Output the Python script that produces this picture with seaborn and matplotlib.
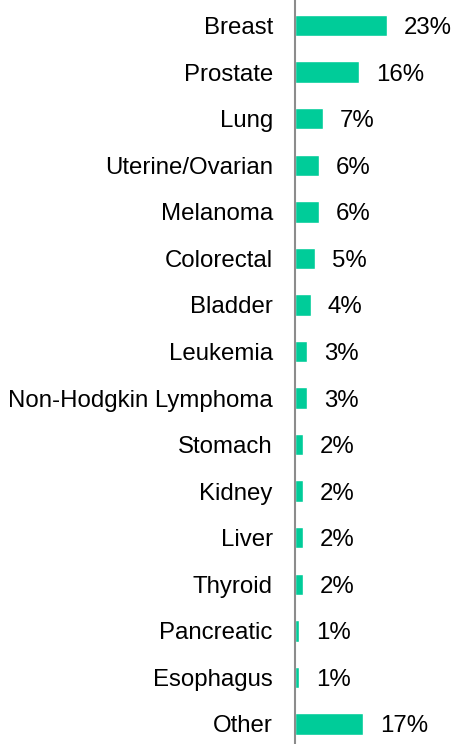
import matplotlib
matplotlib.use("Agg")
import matplotlib.pyplot as plt
import seaborn as sns
import pandas as pd

cancer_types = [
    "Breast", "Prostate", "Lung", "Uterine/Ovarian", "Melanoma", "Colorectal",
    "Bladder", "Leukemia", "Non-Hodgkin Lymphoma", "Stomach", "Kidney",
    "Liver", "Thyroid", "Pancreatic", "Esophagus", "Other",
]
share_pct = [23, 16, 7, 6, 6, 5, 4, 3, 3, 2, 2, 2, 2, 1, 1, 17]

df = pd.DataFrame({"type": cancer_types, "share": share_pct})

sns.set_theme(style="white")
plt.rcParams["font.family"] = ["Liberation Sans", "DejaVu Sans"]

W, H = 454, 744
fig = plt.figure(figsize=(W / 100, H / 100), dpi=100)
left_px = 295
ax = fig.add_axes([left_px / W, 0, (W - left_px) / W, 1])

sns.barplot(data=df, x="share", y="type", orient="h", color="#00CC99",
            saturation=1, width=0.46, ax=ax)

ax.set_xlim(0, (W - left_px) / 4.0)
ax.set_ylim(15.43, -0.55)
ax.set_xlabel("")
ax.set_ylabel("")
ax.set_xticks([])

for side in ["top", "right", "bottom"]:
    ax.spines[side].set_visible(False)
ax.spines["left"].set_color("#8c8c8c")
ax.spines["left"].set_linewidth(1.5)

ax.tick_params(axis="y", length=0, pad=16, labelsize=17.3, labelcolor="#000000")

value_texts = ax.bar_label(ax.containers[0], labels=[f"{v}%" for v in share_pct],
                           padding=12, fontsize=17.3, color="#000000")
for t in value_texts:
    t.set_verticalalignment("center_baseline")

fig.savefig("out.png", dpi=100)
